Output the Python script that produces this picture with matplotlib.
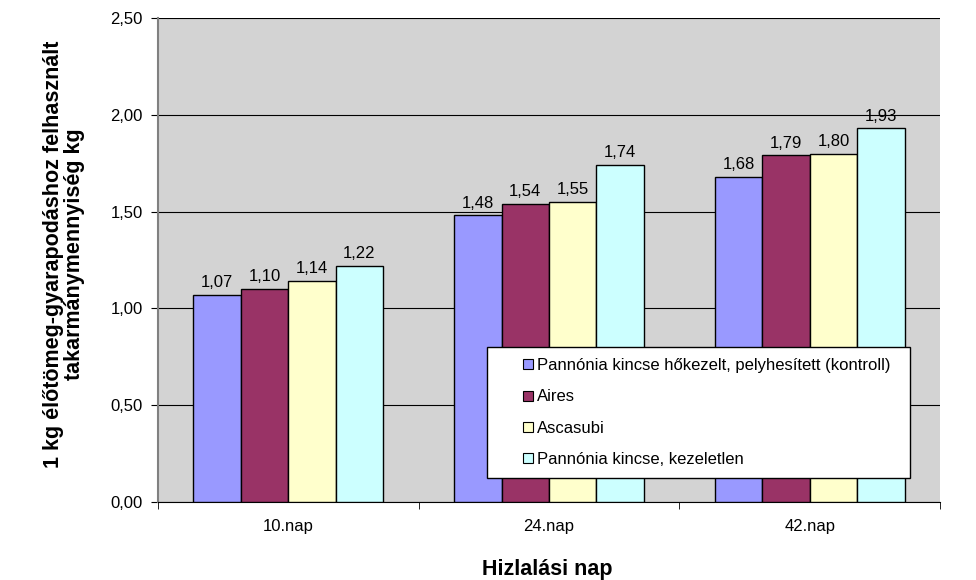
import numpy as np
import matplotlib.pyplot as plt
from matplotlib.lines import Line2D

plt.rcParams['font.family'] = ['Liberation Sans', 'DejaVu Sans']

days = ["10.nap", "24.nap", "42.nap"]
series_names = ["Pannónia kincse hőkezelt, pelyhesített (kontroll)",
                "Aires",
                "Ascasubi",
                "Pannónia kincse, kezeletlen"]
kontroll = [1.07, 1.48, 1.68]
aires = [1.10, 1.54, 1.79]
ascasubi = [1.14, 1.55, 1.80]
kezeletlen = [1.22, 1.74, 1.93]
colors = ["#9999FF", "#993366", "#FFFFCC", "#CCFFFF"]

fig = plt.figure(figsize=(9.76, 5.8), dpi=100)
ax = fig.add_axes([158/976, 1-502/580, (940-158)/976, (502-18)/580])
ax.set_facecolor("#d3d3d3")

x = np.arange(len(days))
w = 0.182
for i, vals in enumerate([kontroll, aires, ascasubi, kezeletlen]):
    pos = x + (i - 1.5) * w
    ax.bar(pos, vals, w, color=colors[i], edgecolor="black",
           linewidth=1, zorder=3)
    for p, v in zip(pos, vals):
        ax.text(p, v + 0.025, f"{v:.2f}".replace(".", ","), ha="center",
                va="bottom", fontsize=12, zorder=4)

ax.set_xlim(-0.5, 2.5)
ax.set_ylim(0, 2.5)
yt = np.arange(0, 2.51, 0.5)
ax.set_yticks(yt)
ax.set_yticklabels([f"{v:.2f}".replace(".", ",") for v in yt], fontsize=12)
ax.yaxis.grid(True, color="black", linewidth=0.8, zorder=0)
ax.set_axisbelow(True)

ax.set_xticks(x)
ax.set_xticklabels(days, fontsize=12)
ax.tick_params(axis="x", length=0, pad=12)
ax.set_xticks([-0.5, 0.5, 1.5, 2.5], minor=True)
ax.tick_params(axis="x", which="minor", length=5, direction="out", color="black")
ax.tick_params(axis="y", length=5, direction="out", color="black", pad=6)

for s in ["top", "right"]:
    ax.spines[s].set_visible(False)
ax.spines["left"].set_color("#808080")
ax.spines["left"].set_linewidth(1.5)
ax.spines["bottom"].set_color("black")

fig.text(64/976, 1-254/580,
         "1 kg élőtömeg-gyarapodáshoz felhasznált\ntakarmánymennyiség kg",
         rotation=90, ha="center", va="center", fontsize=15.5,
         fontweight="bold", linespacing=1.05)
fig.text(547/976, 1-570/580, "Hizlalási nap", ha="center", va="center",
         fontsize=15.5, fontweight="bold")

handles = [Line2D([], [], marker="s", linestyle="none", markersize=7,
                  markerfacecolor=c, markeredgecolor="black",
                  markeredgewidth=0.8) for c in colors]
labels = [series_names[0] + "  "] + series_names[1:]
leg = ax.legend(handles, labels, loc="lower left",
                bbox_to_anchor=((487-158)/782, (502-478)/484),
                fontsize=12, frameon=True, fancybox=False, framealpha=1,
                edgecolor="black", handlelength=3.65, handletextpad=-1.32,
                labelspacing=0.98, borderpad=0.65, borderaxespad=0)
leg.get_frame().set_linewidth(1)
leg.set_zorder(5)

fig.savefig("out.png", dpi=100)
